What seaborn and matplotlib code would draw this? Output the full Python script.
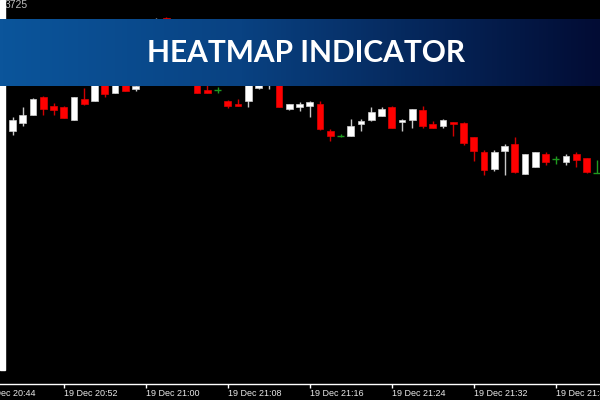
import numpy as np
import matplotlib
matplotlib.use("Agg")
import matplotlib.pyplot as plt
from matplotlib.colors import LinearSegmentedColormap
from matplotlib.patches import Rectangle
import seaborn as sns

# ---- data (price in points) ----
opens = [3599, 3607, 3615, 3633, 3624, 3623, 3610, 3631, 3629, 3648,
         3637, 3646, 3641, 3650, 3690, 3712, 3695, 3668, 3675, 3640,
         3640, 3629, 3626, 3629, 3642, 3650, 3658, 3621, 3623, 3624,
         3626, 3599, 3594, 3594, 3606, 3610, 3614, 3623, 3608, 3610,
         3620, 3606, 3604, 3608, 3607, 3593, 3578, 3561, 3579, 3586,
         3556, 3563, 3576, 3571, 3568, 3576, 3572, 3557]
highs = [3613, 3623, 3632, 3634, 3627, 3624, 3633, 3642, 3654, 3650,
         3654, 3648, 3648, 3695, 3712, 3713, 3700, 3685, 3678, 3645,
         3643, 3630, 3631, 3665, 3660, 3664, 3660, 3626, 3628, 3629,
         3629, 3601, 3596, 3611, 3611, 3623, 3623, 3624, 3611, 3621,
         3624, 3609, 3611, 3608, 3608, 3593, 3580, 3580, 3586, 3593,
         3576, 3578, 3578, 3574, 3576, 3578, 3572, 3570]
lows = [3595, 3604, 3615, 3615, 3615, 3612, 3610, 3625, 3629, 3633,
        3637, 3639, 3639, 3646, 3685, 3690, 3665, 3660, 3637, 3637,
        3637, 3622, 3624, 3623, 3641, 3641, 3623, 3620, 3619, 3613,
        3600, 3589, 3593, 3594, 3599, 3609, 3614, 3602, 3599, 3602,
        3602, 3602, 3602, 3594, 3585, 3569, 3555, 3559, 3555, 3557,
        3556, 3563, 3565, 3566, 3565, 3563, 3557, 3557]
closes = [3610, 3615, 3631, 3621, 3620, 3612, 3633, 3626, 3650, 3636,
          3650, 3639, 3644, 3690, 3708, 3695, 3670, 3680, 3637, 3637,
          3640, 3624, 3624, 3660, 3655, 3660, 3623, 3626, 3626, 3628,
          3601, 3594, 3594, 3604, 3609, 3618, 3621, 3602, 3610, 3621,
          3604, 3602, 3610, 3606, 3587, 3579, 3560, 3578, 3584, 3558,
          3576, 3578, 3568, 3571, 3574, 3570, 3558, 3557]
tick_labels = ["19 Dec 20:44", "19 Dec 20:52", "19 Dec 21:00", "19 Dec 21:08",
               "19 Dec 21:16", "19 Dec 21:24", "19 Dec 21:32", "19 Dec 21:40"]
tick_index = [-3, 5, 13, 21, 29, 37, 45, 53]
price_label = "3725"
title = "HEATMAP INDICATOR"

sns.set_theme(style="dark")
plt.rcParams["font.family"] = ["DejaVu Sans"]

o = np.array(opens, float); h = np.array(highs, float)
l = np.array(lows, float); c = np.array(closes, float)
idx = np.arange(len(o))
up = c > o
dn = c < o
dj = c == o

fig = plt.figure(figsize=(6, 4), dpi=100, facecolor="black")
ax = fig.add_axes([0, 16 / 400, 1, 384 / 400])
ax.set_facecolor("black")
ax.set_xlim(-12.5 / 10.25, (600 - 12.5) / 10.25)
ax.set_ylim(3346, 3730)
ax.grid(False)

wick_colors = np.where(up, "#c8c8c8", np.where(dn, "#d00000", "#1f9a1f"))
ax.vlines(idx, l, h, colors=list(wick_colors), linewidth=1, zorder=2)
bw = 0.68
ax.bar(idx[up], (c - o)[up], bottom=o[up], width=bw, color="white",
       edgecolor="#cfcfcf", linewidth=0.5, zorder=3)
ax.bar(idx[dn], (o - c)[dn], bottom=c[dn], width=bw, color="#ff0000",
       edgecolor="#e00000", linewidth=0.5, zorder=3)
ax.hlines(o[dj], idx[dj] - bw / 2, idx[dj] + bw / 2, colors="#1f9a1f",
          linewidth=1, zorder=3)

for s in ["top", "left", "right"]:
    ax.spines[s].set_visible(False)
ax.spines["bottom"].set_color("white")
ax.spines["bottom"].set_linewidth(1)
ax.set_yticks([])
ax.set_xticks(tick_index[1:])
ax.tick_params(axis="x", direction="out", length=3, width=1, color="white",
               labelbottom=False, bottom=True)
for t, lbl in zip(tick_index, tick_labels):
    ax.annotate(lbl, xy=(t, 0), xycoords=("data", "axes fraction"),
                xytext=(0, -10), textcoords="offset pixels", ha="left",
                va="center", color="#e8e8e8", fontsize=6.5,
                family="Liberation Sans", annotation_clip=False)

ax.text(5 / 600, 1 - 5 / 384, price_label, transform=ax.transAxes,
        ha="left", va="center", color="#bdbdbd", fontsize=7.5,
        family="Liberation Sans")

fig.add_artist(Rectangle((0, 30 / 400), 5 / 600, 370 / 400,
                         transform=fig.transFigure, color="white", zorder=2))

bax = fig.add_axes([0, (400 - 86) / 400, 1, 67 / 400], zorder=5)
cmap = LinearSegmentedColormap.from_list(
    "ban", [(0, (11/255, 85/255, 155/255)), (0.4, (9/255, 66/255, 130/255)),
            (1, (2/255, 12/255, 52/255))])
grad = np.linspace(0, 1, 600)[None, :]
bax.imshow(grad, aspect="auto", cmap=cmap, extent=[0, 1, 0, 1])
bax.axis("off")
bax.text(0.51, 0.49, title, ha="center", va="center", color="white",
         fontsize=21.5, fontweight="bold", family="Lato")

fig.savefig("out.png", dpi=100, facecolor="black")
